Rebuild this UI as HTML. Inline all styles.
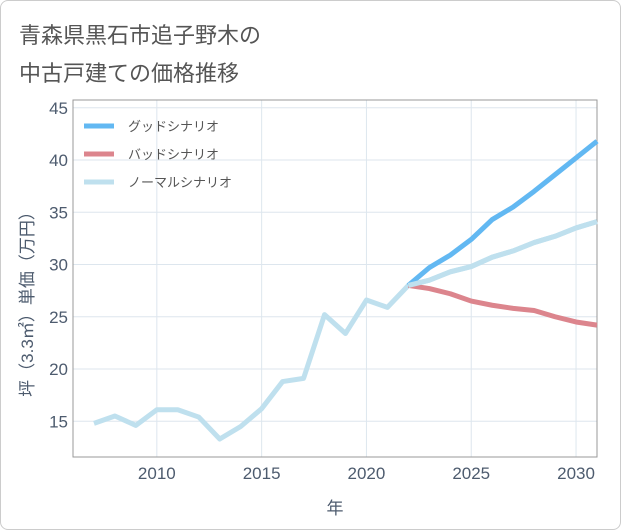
<!DOCTYPE html>
<html><head><meta charset="utf-8"><style>
body{margin:0;background:#fff;}
#wrap{position:relative;width:619px;height:528px;border:1px solid #ccc;border-radius:8px;background:#fff;overflow:hidden;}
.t{position:absolute;left:18px;font:22px "Liberation Sans","Noto Sans CJK JP",sans-serif;color:#555;}
svg text{font-family:"Liberation Sans","Noto Sans CJK JP",sans-serif;}
</style></head><body>
<div id="wrap">
<div class="t" style="top:17px">青森県黒石市追子野木の</div>
<div class="t" style="top:55px">中古戸建ての価格推移</div>
<svg id="c" width="621" height="530" style="position:absolute;left:-1px;top:-1px"></svg>
</div>
<script>
const years=[2007,2008,2009,2010,2011,2012,2013,2014,2015,2016,2017,2018,2019,2020,2021,2022,2023,2024,2025,2026,2027,2028,2029,2030,2031];
const normal=[14.8,15.5,14.6,16.1,16.1,15.4,13.3,14.5,16.2,18.8,19.1,25.2,23.4,26.6,25.9,28.0,28.5,29.3,29.8,30.7,31.3,32.1,32.7,33.5,34.1];
const fYears=[2022,2023,2024,2025,2026,2027,2028,2029,2030,2031];
const good=[28.0,29.7,30.9,32.4,34.3,35.5,37.0,38.6,40.2,41.8];
const bad=[28.0,27.7,27.2,26.5,26.1,25.8,25.6,25.0,24.5,24.2];
const xTicks=[2010,2015,2020,2025,2030];
const yTicks=[15,20,25,30,35,40,45];
const L=73,R=597,T=100,B=457;
const X=v=>L+(v-2006)*(R-L)/25;
const Y=v=>369-(v-20)*10.45;
const s=document.getElementById('c'),NS='http://www.w3.org/2000/svg';
const TC='#4d5b6e';
function mk(tag,a,p){const e=document.createElementNS(NS,tag);for(const k in a)e.setAttribute(k,a[k]);(p||s).appendChild(e);return e;}
yTicks.forEach(v=>{const l=mk('line',{x1:L,x2:R,y1:Y(v),y2:Y(v),stroke:'#dde6ee'});


const t=mk('text',{x:L-5,y:Y(v)+6,'text-anchor':'end','font-size':17,fill:TC});t.textContent=v;

});
xTicks.forEach(v=>{const l=mk('line',{x1:X(v),x2:X(v),y1:T,y2:B,stroke:'#dde6ee'});


const t=mk('text',{x:X(v),y:B+22,'text-anchor':'middle','font-size':17,fill:TC});t.textContent=v;

});
const fr=mk('rect',{x:L,y:T,width:R-L,height:B-T,fill:'none',stroke:'#999'});


function line(xs,ys,col,name){const p=mk('polyline',{points:xs.map((x,i)=>X(x)+','+Y(ys[i])).join(' '),fill:'none',stroke:col,'stroke-width':5,'stroke-linejoin':'round'});

}
line(years,normal,'#bfe0ee','normal-scenario-line');
line(fYears,bad,'#dc858d','bad-scenario-line');
line(fYears,good,'#62b8f2','good-scenario-line');
line(fYears,normal.slice(15),'#bfe0ee','normal-scenario-forecast');
const leg=[['グッドシナリオ','#62b8f2'],['バッドシナリオ','#dc858d'],['ノーマルシナリオ','#bfe0ee']];
leg.forEach((d,i)=>{const y=126+i*28;const l=mk('line',{x1:84,x2:114,y1:y,y2:y,stroke:d[1],'stroke-width':5});


const t=mk('text',{x:128,y:y+5,'font-size':13,fill:'#555'});t.textContent=d[0];

});
const xt=mk('text',{x:335,y:514,'text-anchor':'middle','font-size':17,fill:TC});xt.textContent='年';


const yt=mk('text',{x:0,y:0,'text-anchor':'middle','font-size':17,fill:TC,transform:'translate(33,300) rotate(-90)'});yt.textContent='坪（3.3㎡）単価（万円）';


</script>
</body></html>
